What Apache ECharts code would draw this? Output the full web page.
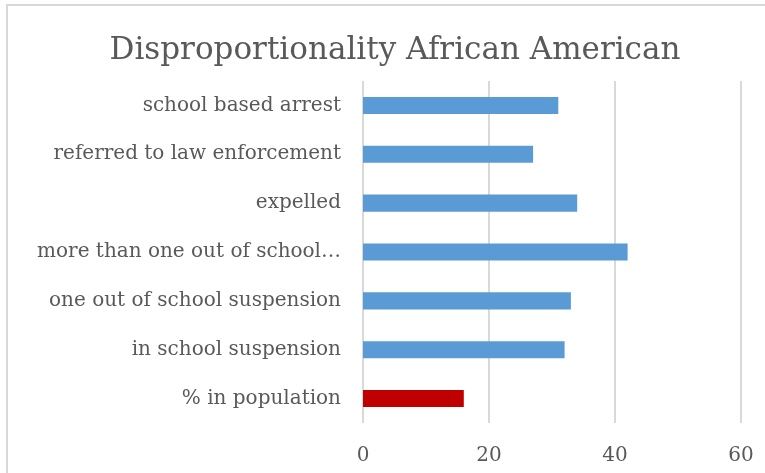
<!DOCTYPE html>
<html><head><meta charset="utf-8">
<script src="https://cdn.jsdelivr.net/npm/echarts@6/dist/echarts.min.js"></script>
<style>html,body{margin:0;padding:0;background:#fff}#c{width:765px;height:473px}</style>
</head><body><div id="c"></div>
<script>
const categories = ["% in population","in school suspension","one out of school suspension","more than one out of school…","expelled","referred to law enforcement","school based arrest"];
const values = [16, 32, 33, 42, 34, 27, 31];
const barColors = ["#C00000","#5B9BD5","#5B9BD5","#5B9BD5","#5B9BD5","#5B9BD5","#5B9BD5"];
const xTicks = [0, 20, 40, 60];
const titleText = "Disproportionality African American";

const FONT = "DejaVu Serif";
const chart = echarts.init(document.getElementById('c'), null, {renderer:'canvas'});
chart.setOption({
  animation:false,
  backgroundColor:'#fff',
  title:{text:titleText,left:390,top:30,textAlign:'center',
    textStyle:{fontFamily:FONT,fontSize:31,fontWeight:'normal',color:'#595959'}},
  grid:{left:363,right:24,top:81,bottom:50,containLabel:false},
  xAxis:{type:'value',min:xTicks[0],max:xTicks[xTicks.length-1],interval:20,
    axisLine:{show:false},axisTick:{show:false},
    axisLabel:{fontFamily:FONT,fontSize:20,color:'#595959',margin:23},
    splitLine:{show:true,lineStyle:{color:'#D9D9D9',width:2}}},
  yAxis:{type:'category',data:categories,
    axisLine:{show:false},axisTick:{show:false},
    axisLabel:{fontFamily:FONT,fontSize:20,color:'#595959',margin:22}},
  series:[{type:'bar',barWidth:'35%',
    data:values.map((v,i)=>({value:v,itemStyle:{color:barColors[i]}}))}],
  graphic:[{type:'rect',shape:{x:7,y:5,width:800,height:520},
    style:{fill:'none',stroke:'#D9D9D9',lineWidth:2},silent:true,z:-1}]
});
</script></body></html>
